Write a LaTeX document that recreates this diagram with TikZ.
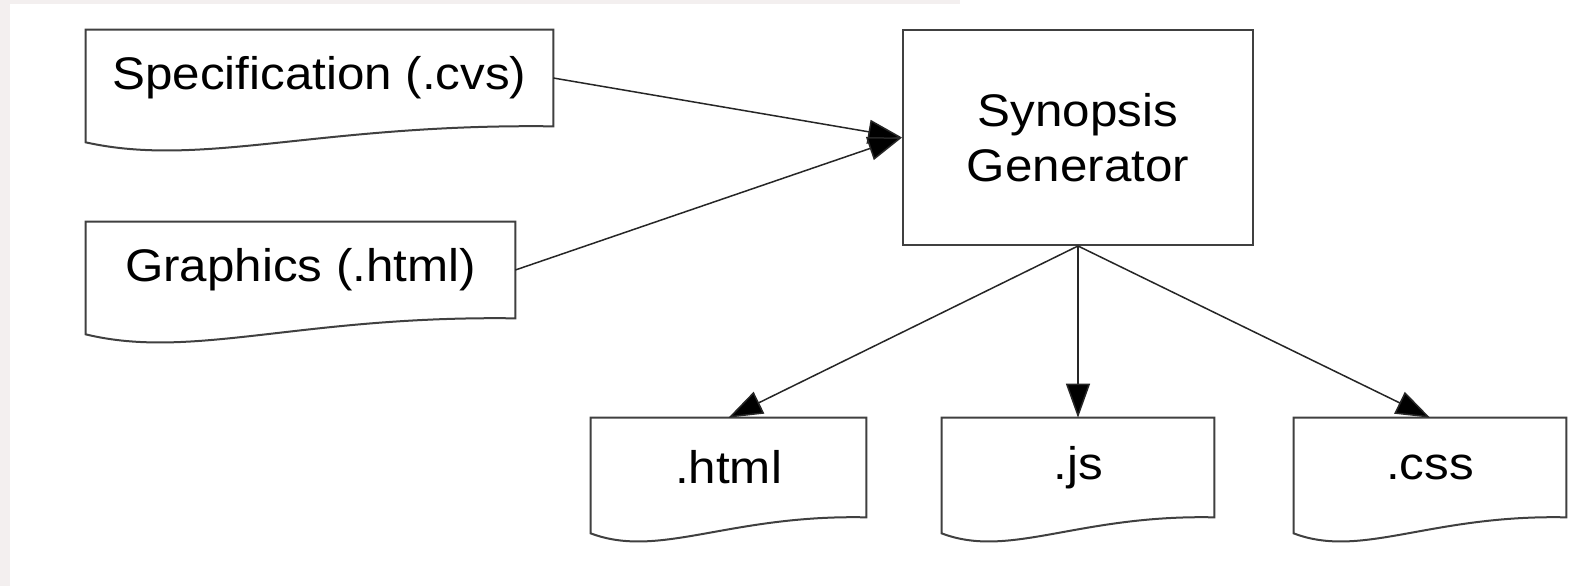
\documentclass[tikz,border=0pt]{standalone}
\usepackage{fontspec}
\setmainfont{Liberation Sans}[FakeStretch=1.08]
\usetikzlibrary{arrows.meta,calc}
\definecolor{frame}{RGB}{243,239,239}
\begin{document}
\begin{tikzpicture}
  [x=0.02cm, y=-0.02cm,
   every node/.style={font=\fontsize{26}{31.2}\selectfont, inner sep=0pt, align=center},
   doc/.style={minimum height=1.92cm},
   proc/.style={draw=black!75, line width=0.04cm, minimum width=7cm, minimum height=4.3cm},
   outline/.style={draw=black!75, line width=0.04cm},
   flow/.style={draw=black!85, line width=0.03cm, -{Triangle[length=0.68cm, width=0.48cm, fill=black]}}]
  \useasboundingbox (0,0) rectangle (1572,586);
  \fill[white] (0,0) rectangle (1572,586);
  \fill[frame] (0,0) rectangle (10,586);
  \fill[frame] (10,0) rectangle (960,4);
  % inputs
  \node[doc, minimum width=9.34cm] (spec) at (319.5,78) {Specification (.cvs)};
  \node[doc, minimum width=8.58cm] (gfx) at (300.5,270) {Graphics (.html)};
  \node[proc] (gen) at (1078,137.5) {Synopsis\\Generator};
  % outputs
  \node[doc, minimum width=5.5cm, minimum height=1.98cm] (html) at (728.5,467.5) {.html};
  \node[doc, minimum width=5.44cm, minimum height=1.98cm] (js) at (1078,467.5) {.js};
  \node[doc, minimum width=5.44cm, minimum height=1.98cm] (css) at (1430,467.5) {.css};
  \foreach \d in {spec,gfx,html,js,css}
    \draw[outline] let \p1=(\d.south west), \p2=(\d.north east) in
      (\x1,\y1-0.32cm) -- (\x1,\y2) -- (\x2,\y2) -- (\x2,\y1)
      .. controls ({\x1+0.5*(\x2-\x1)},\y1+0.06cm) and ({\x1+0.25*(\x2-\x1)},\y1-0.84cm) .. (\x1,\y1-0.32cm) -- cycle;
  \draw[flow] (spec.east) -- (gen.west);
  \draw[flow] (gfx.east) -- (gen.west);
  \draw[flow] (gen.south) -- (html.north);
  \draw[flow] (gen.south) -- (js.north);
  \draw[flow] (gen.south) -- (css.north);
\end{tikzpicture}
\end{document}
